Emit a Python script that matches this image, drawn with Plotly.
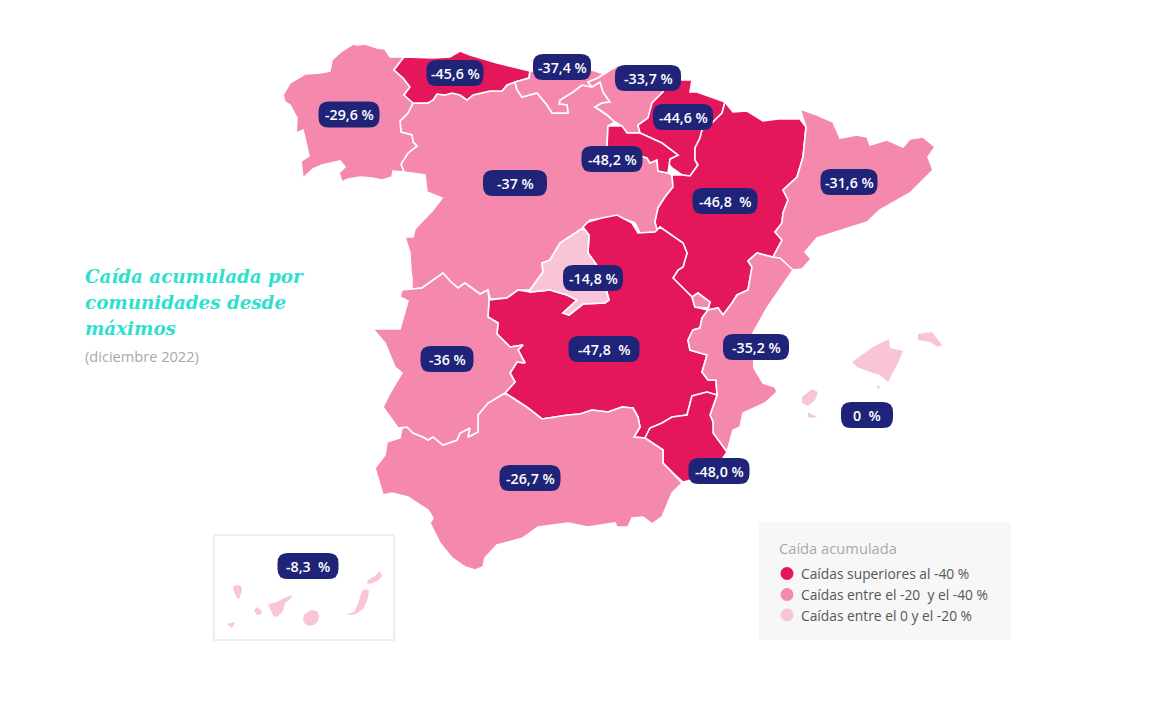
import plotly.graph_objects as go

# outlines, in image pixels
galicia = [(353,44),(357,45),(365,44),(377,48),(385,49),(390,57),(404,57),(398,65),(394,70),(403,78),(410,87),(404,95),(413,103),(408,113),(400,121),(401,132),(412,135),(413,142),(417,146),(408,153),(401,164),(404,172),(393,171),(392,177),(382,180),(372,178),(360,177),(348,179),(342,182),(339,173),(345,167),(340,161),(322,165),(313,169),(303,178),(301,161),(309,156),(307,147),(303,130),(296,133),(297,118),(290,105),(285,102),(283,95),(290,83),(305,74),(320,73),(330,71),(332,60),(342,51)]
asturias = [(404,57),(433,58),(450,57),(460,51),(470,55),(497,63),(530,71),(529,78),(515,82),(507,85),(502,91),(490,91),(473,95),(467,100),(460,95),(452,93),(445,95),(437,94),(433,100),(428,103),(413,103),(404,95),(410,87),(403,78),(394,70),(398,65)]
cantabria = [(530,71),(592,70),(604,74),(598,78),(588,82),(592,87),(582,85),(573,92),(560,100),(559,104),(567,105),(568,113),(557,113),(552,113),(547,105),(537,93),(522,97),(517,90),(515,82),(529,78)]
pais_vasco = [(604,74),(617,66),(640,64),(664,66),(664,82),(663,92),(652,103),(648,118),(638,125),(640,133),(627,133),(622,126),(615,122),(607,115),(600,110),(595,107),(602,103),(610,102),(603,92),(600,82),(592,87),(588,82),(598,78)]
navarra = [(664,82),(680,80),(692,80),(690,92),(697,92),(725,102),(722,113),(713,122),(702,130),(700,138),(695,148),(695,160),(698,165),(690,176),(682,175),(672,168),(668,163),(670,159),(678,155),(662,143),(640,133),(638,125),(648,118),(652,103),(663,92)]
rioja = [(608,126),(622,126),(627,133),(640,133),(662,143),(678,155),(670,159),(668,173),(658,171),(657,160),(650,163),(647,158),(637,155),(607,147)]
castilla_leon = [(413,103),(428,103),(433,100),(437,94),(445,95),(452,93),(460,95),(467,100),(473,95),(490,91),(502,91),(507,85),(515,82),(517,90),(522,97),(537,93),(547,105),(552,113),(557,113),(568,113),(567,105),(559,104),(560,100),(573,92),(582,85),(592,87),(600,82),(603,92),(610,102),(602,103),(595,107),(600,110),(607,115),(615,122),(608,126),(607,147),(637,155),(647,158),(650,163),(657,160),(658,171),(668,173),(672,175),(673,187),(665,197),(658,208),(655,222),(658,232),(640,233),(635,223),(622,218),(607,218),(590,220),(583,228),(560,243),(550,260),(542,263),(543,272),(530,290),(518,290),(507,298),(490,299),(488,290),(480,294),(465,283),(458,288),(450,281),(443,273),(422,288),(412,289),(412,278),(411,272),(410,253),(405,237),(413,237),(415,229),(433,210),(442,198),(427,192),(425,175),(404,172),(401,164),(408,153),(417,146),(413,142),(412,135),(401,132),(400,121),(408,113)]
trevino = [(618,118),(625,114),(631,116),(635,122),(628,123),(621,122)]
aragon = [(725,102),(733,112),(747,111),(763,121),(778,119),(800,119),(806,127),(803,157),(797,177),(783,190),(788,200),(783,213),(782,223),(775,232),(782,240),(773,257),(757,253),(748,261),(752,267),(748,290),(737,295),(732,303),(723,315),(718,308),(708,310),(710,302),(698,293),(692,297),(673,278),(678,270),(683,267),(687,253),(683,243),(660,227),(658,232),(655,222),(658,208),(665,197),(673,187),(672,175),(682,175),(690,176),(698,165),(695,160),(695,148),(700,138),(702,130),(713,122),(722,113)]
cataluna = [(800,109),(817,115),(833,122),(840,138),(857,135),(867,137),(870,145),(887,140),(903,147),(910,139),(923,137),(935,147),(928,157),(933,170),(910,193),(880,210),(867,222),(837,232),(817,238),(805,252),(811,259),(802,269),(793,270),(773,257),(782,240),(775,232),(782,223),(783,213),(788,200),(783,190),(797,177),(803,157),(806,127)]
madrid = [(583,228),(589,235),(588,253),(598,267),(605,285),(609,300),(605,303),(583,304),(569,315),(563,313),(577,300),(567,295),(550,290),(530,292),(530,290),(543,272),(542,263),(550,260),(560,243)]
castilla_mancha = [(489,300),(507,298),(518,290),(530,292),(550,290),(567,295),(577,300),(563,313),(569,315),(583,304),(605,303),(609,300),(605,285),(598,267),(588,253),(589,235),(583,227),(588,222),(602,218),(617,215),(632,223),(638,233),(655,232),(660,227),(683,243),(687,253),(683,267),(678,270),(673,278),(692,297),(695,307),(708,310),(702,318),(700,328),(693,330),(688,340),(690,350),(707,355),(702,372),(708,380),(716,380),(717,395),(707,392),(692,396),(687,415),(672,417),(662,423),(650,428),(645,438),(634,437),(640,427),(638,417),(633,408),(622,407),(608,412),(592,410),(580,414),(568,415),(542,419),(528,408),(513,398),(505,393),(515,382),(510,373),(517,362),(525,363),(518,350),(523,345),(510,347),(497,334),(498,323),(488,317)]
valencia = [(757,253),(772,257),(780,258),(793,270),(767,308),(753,333),(754,368),(763,383),(775,387),(777,392),(765,403),(743,413),(740,427),(733,430),(727,452),(713,433),(713,422),(710,415),(717,395),(716,380),(708,380),(702,372),(707,355),(690,350),(688,340),(693,330),(700,328),(702,318),(708,310),(718,308),(723,315),(732,303),(737,295),(748,290),(752,267),(748,261),None,(692,297),(698,293),(710,302),(708,308),(695,307)]
murcia = [(727,452),(715,470),(700,478),(683,482),(673,473),(663,463),(663,450),(645,438),(650,428),(662,423),(672,417),(687,415),(692,396),(707,392),(717,395),(710,415),(713,422),(713,433)]
andalucia = [(505,393),(513,398),(528,408),(542,419),(568,415),(580,414),(592,410),(608,412),(622,407),(633,408),(638,417),(640,427),(634,437),(645,438),(663,450),(663,463),(682,483),(672,493),(662,517),(652,524),(643,517),(632,518),(628,527),(617,527),(615,523),(588,527),(568,523),(538,527),(523,538),(497,545),(485,558),(483,567),(475,570),(465,567),(452,558),(440,543),(430,523),(433,518),(428,510),(408,497),(392,493),(383,495),(375,468),(385,455),(387,442),(400,438),(402,428),(407,427),(413,433),(423,437),(428,440),(433,437),(443,445),(457,440),(460,433),(470,428),(468,437),(478,432),(478,415),(488,403)]
extremadura = [(443,273),(450,281),(458,288),(465,283),(480,294),(488,290),(489,300),(488,317),(498,323),(497,334),(510,347),(523,345),(518,350),(525,363),(517,362),(510,373),(515,382),(505,393),(488,403),(478,415),(478,432),(468,437),(470,428),(460,433),(457,440),(443,445),(433,437),(428,440),(423,437),(413,433),(407,427),(398,428),(383,407),(390,393),(402,373),(395,367),(385,343),(373,329),(400,329),(408,301),(400,297),(402,290),(422,288)]
baleares = [(852,362),(873,347),(889,339),(890,348),(903,351),(898,363),(888,382),(880,375),(873,373),(857,367),None,(918,334),(932,332),(942,345),(938,347),(930,342),(918,340),None,(802,397),(812,389),(818,392),(815,400),(808,406),(802,403),None,(808,412),(812,415),(817,416),(813,418),(808,417),None,(877,386),(880,386),(879,389),(877,388)]
canarias = [(233,587),(236,585),(241,586),(242,591),(239,599),(237,598),(234,592),None,(227,624),(235,622),(232,628),None,(254,610),(257,607),(262,611),(261,614),(257,615),None,(268,604),(277,602),(284,598),(293,595),(290,599),(285,603),(283,611),(278,616),(274,617),(271,611),None,(303,620),(304,615),(309,611),(312,610),(317,611),(319,616),(318,621),(314,625),(309,626),(305,624),None,(347,614),(354,612),(358,604),(362,591),(366,589),(369,591),(367,601),(363,609),(356,614),(351,615),None,(367,584),(368,580),(375,576),(380,571),(382,576),(379,580),(373,583)]

# accumulated fall per region
regions = [castilla_leon, trevino, galicia, asturias, cantabria, pais_vasco, navarra, rioja, aragon, cataluna, castilla_mancha, madrid, valencia, murcia, andalucia, extremadura, baleares, canarias]
values = [-37, -37, -29.6, -45.6, -37.4, -33.7, -44.6, -48.2, -46.8, -31.6, -47.8, -14.8, -35.2, -48.0, -26.7, -36, 0, -8.3]

labels = ["-29,6 %", "-45,6 %", "-37,4 %", "-33,7 %", "-44,6 %", "-48,2 %", "-37 %", "-46,8\u00a0\u00a0%", "-31,6 %", "-14,8 %", "-47,8\u00a0\u00a0%", "-36 %", "-35,2 %", "0\u00a0\u00a0%", "-48,0 %", "-26,7 %", "-8,3\u00a0\u00a0%"]
label_x = [349, 455, 562, 648, 683, 612, 515, 725, 849, 593, 604, 447, 756, 867, 719, 530, 308]
label_y = [114.5, 73, 67, 78, 117, 159, 183, 201, 182, 278, 349, 359, 347, 415, 471, 478, 566]
label_w = [61, 57, 58, 66, 60, 61, 64, 65, 57, 60, 71, 53, 66, 52, 61, 61, 61]

legend_labels = ["Caídas superiores al -40 %", "Caídas entre el -20\u00a0\u00a0y el -40 %", "Caídas entre el 0 y el -20 %"]
legend_colors = ["#e3175a", "#f589ad", "#f9c4d7"]
legend_y = [573.5, 594.5, 615]

title_lines = ["Caída acumulada por", "comunidades desde", "máximos"]
title_y = [276, 302, 328]

PILL = "#1f2478"
FONT = "Open Sans"


def color_for(v):
    if v <= -40:
        return legend_colors[0]
    if v <= -20:
        return legend_colors[1]
    return legend_colors[2]


def pill_path(cx, cy, w, h=26, r=10):
    x0, x1, y0, y1 = cx - w / 2, cx + w / 2, cy - h / 2, cy + h / 2
    return (f"M{x0+r},{y0} L{x1-r},{y0} Q{x1},{y0} {x1},{y0+r} L{x1},{y1-r} Q{x1},{y1} {x1-r},{y1} "
            f"L{x0+r},{y1} Q{x0},{y1} {x0},{y1-r} L{x0},{y0+r} Q{x0},{y0} {x0+r},{y0} Z")


def close_parts(points):
    xs, ys, first = [], [], None
    for p in points + [None]:
        if p is None:
            xs += [first[0], None]
            ys += [first[1], None]
            first = None
        else:
            first = first or p
            xs.append(p[0])
            ys.append(p[1])
    return xs, ys


fig = go.Figure()

for outline, val in zip(regions, values):
    xs, ys = close_parts(outline)
    # islands have no neighbours, a white edge only eats into them
    edge = 0 if outline is baleares or outline is canarias else 1.6
    fig.add_trace(go.Scatter(x=xs, y=ys, mode="lines", fill="toself", fillcolor=color_for(val),
                             line=dict(color="white", width=edge), hoverinfo="skip"))

fig.add_trace(go.Scatter(x=[787] * 3, y=legend_y, mode="markers", hoverinfo="skip",
                         marker=dict(size=13, color=legend_colors)))

shapes = [
    dict(type="rect", x0=759, x1=1011, y0=522, y1=640, fillcolor="#f7f7f7", line_width=0, layer="below"),
    dict(type="rect", x0=214, x1=394, y0=535, y1=640, fillcolor="white", line=dict(color="#e8e8e8", width=1.5), layer="below"),
]
annotations = []

for txt, cx, cy, w in zip(labels, label_x, label_y, label_w):
    shapes.append(dict(type="path", path=pill_path(cx, cy, w), fillcolor=PILL, line_width=0, layer="above"))
    annotations.append(dict(x=cx, y=cy, text=txt, showarrow=False, xanchor="center", yanchor="middle",
                            font=dict(family=FONT, size=14.2, color="white", weight=600)))

for line, y in zip(title_lines, title_y):
    annotations.append(dict(x=83, y=y, text=line, showarrow=False, xanchor="left", yanchor="middle",
                            font=dict(family="DejaVu Serif", size=18.3, color="#2fe0cf", style="italic", weight=700)))
annotations.append(dict(x=83, y=356, text="(diciembre 2022)", showarrow=False, xanchor="left", yanchor="middle",
                        font=dict(family=FONT, size=14.6, color="#a9a9a9")))

annotations.append(dict(x=777, y=548, text="Caída acumulada", showarrow=False, xanchor="left", yanchor="middle",
                        font=dict(family=FONT, size=14.7, color="#a9a9a9")))
for txt, y in zip(legend_labels, legend_y):
    annotations.append(dict(x=799, y=y, text=txt, showarrow=False, xanchor="left", yanchor="middle",
                            font=dict(family=FONT, size=13.8, color="#55565a")))

fig.update_layout(
    width=1166, height=710, margin=dict(l=0, r=0, t=0, b=0),
    paper_bgcolor="white", plot_bgcolor="white", showlegend=False,
    xaxis=dict(range=[0, 1166], visible=False, fixedrange=True),
    yaxis=dict(range=[710, 0], visible=False, fixedrange=True),
    shapes=shapes, annotations=annotations,
)

fig.write_html("out.html", post_script="document.body.style.margin='0';", config={"displayModeBar": False})
